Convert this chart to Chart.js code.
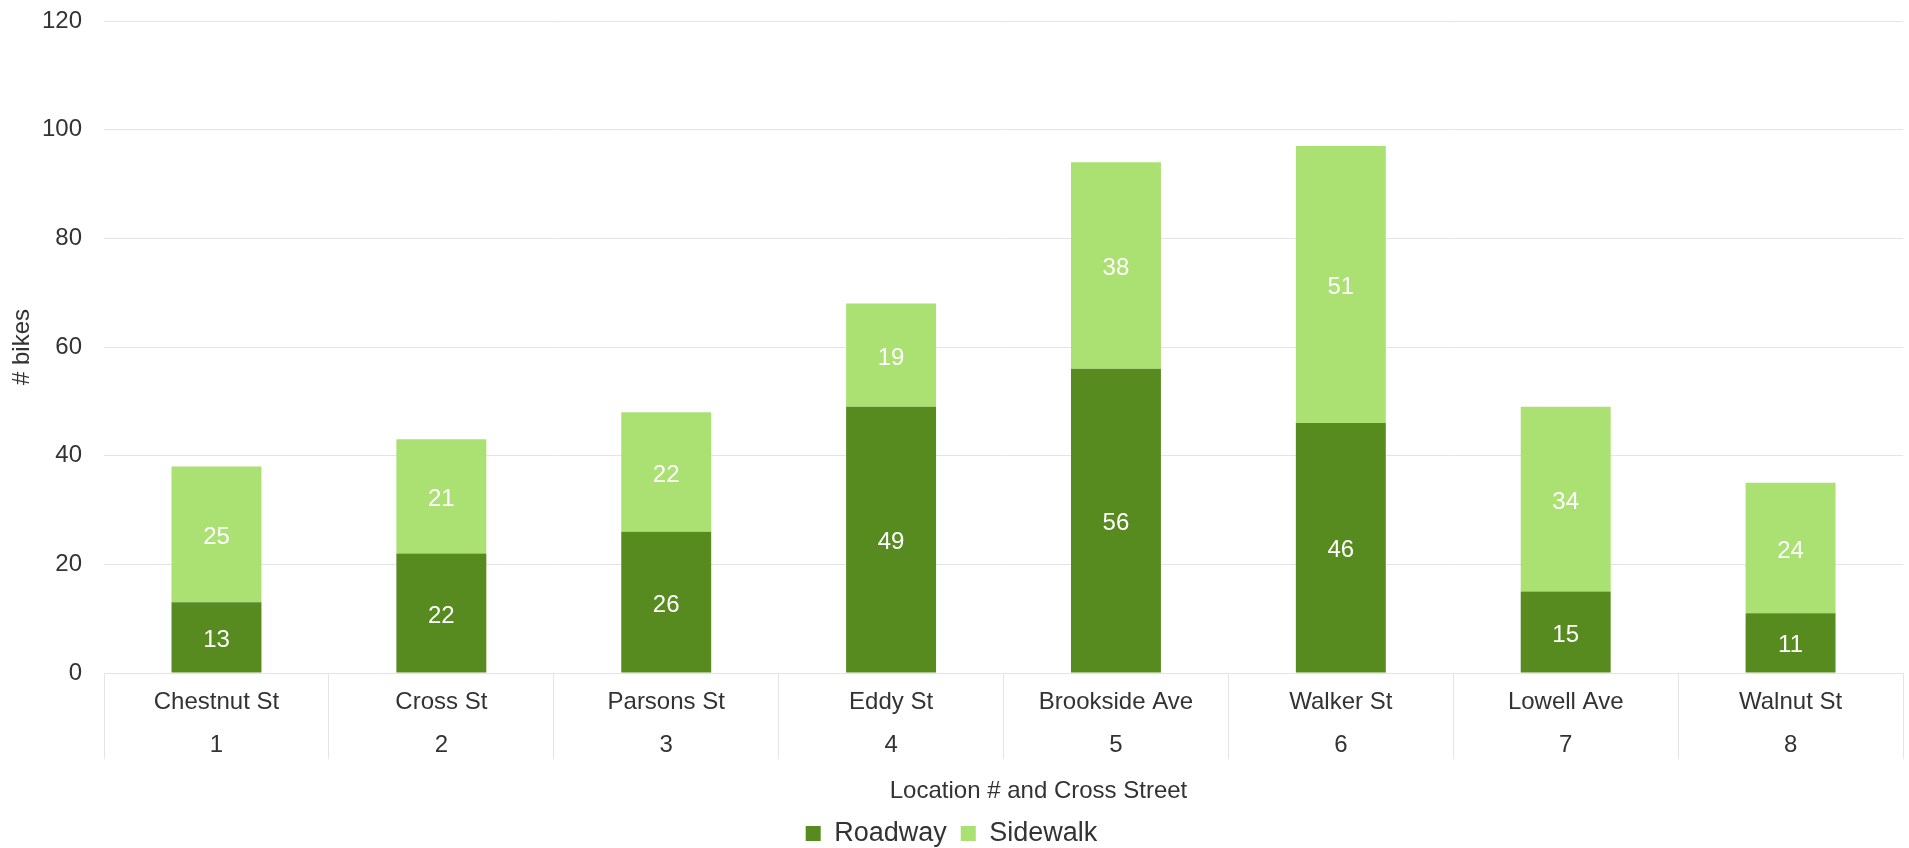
<!DOCTYPE html>
<html><head><meta charset="utf-8">
<script src="https://cdn.jsdelivr.net/npm/chart.js@4.4.1/dist/chart.umd.min.js"></script>
<style>html,body{margin:0;padding:0;background:#fff;overflow:hidden}</style>
</head><body>
<canvas id="c" width="1909" height="848"></canvas>
<script>
const streets = ["Chestnut St","Cross St","Parsons St","Eddy St","Brookside Ave","Walker St","Lowell Ave","Walnut St"];
const locationNumbers = ["1","2","3","4","5","6","7","8"];
const roadway = [13,22,26,49,56,46,15,11];
const sidewalk = [25,21,22,19,38,51,34,24];
const yTicks = [0,20,40,60,80,100,120];
const seriesNames = ["Roadway","Sidewalk"];
const xAxisTitle = "Location # and Cross Street";
const yAxisTitle = "# bikes";

const FONT = "'Liberation Sans', Arial, sans-serif";
const TEXT = "#333333";
const GRID = "#e4e4e4";

Chart.defaults.font.family = FONT;
Chart.defaults.color = TEXT;

const labels = streets.map((s, i) => [s, locationNumbers[i]]);

const valueLabels = {
  id: 'valueLabels',
  afterDatasetsDraw(chart) {
    const ctx = chart.ctx;
    ctx.save();
    ctx.font = "24px " + FONT;
    ctx.fillStyle = "#ffffff";
    ctx.textAlign = "center";
    ctx.textBaseline = "middle";
    chart.data.datasets.forEach((ds, i) => {
      chart.getDatasetMeta(i).data.forEach((bar, j) => {
        ctx.fillText(String(ds.data[j]), bar.x, (bar.y + bar.base) / 2 + 3);
      });
    });
    ctx.restore();
  }
};

const xTitle = {
  id: 'xTitle',
  afterDraw(chart) {
    const s = chart.scales.x;
    const ctx = chart.ctx;
    ctx.save();
    ctx.font = "24px " + FONT;
    ctx.fillStyle = TEXT;
    ctx.textAlign = "center";
    ctx.textBaseline = "middle";
    const opt = s.options.title;
    const lh = 24 * 1.2;
    const y = s.bottom - opt.padding.bottom - lh / 2;
    ctx.fillText(xAxisTitle, (chart.chartArea.left + chart.chartArea.right) / 2 + 35, y);
    ctx.restore();
  }
};

new Chart(document.getElementById('c'), {
  type: 'bar',
  data: {
    labels: labels,
    datasets: [
      { label: seriesNames[0], data: roadway, backgroundColor: '#578B20', borderWidth: 0 },
      { label: seriesNames[1], data: sidewalk, backgroundColor: '#ABE073', borderWidth: 0 }
    ]
  },
  options: {
    responsive: false,
    animation: false,
    devicePixelRatio: 1,
    layout: { padding: { top: 7, right: 6, left: 0, bottom: -9 } },
    datasets: { bar: { categoryPercentage: 1.0, barPercentage: 0.4 } },
    plugins: {
      legend: {
        position: 'bottom',
        labels: { boxWidth: 15, boxHeight: 15, padding: 14, font: { size: 27 }, color: TEXT }
      },
      tooltip: { enabled: false }
    },
    scales: {
      x: {
        stacked: true,
        grid: { display: true, drawOnChartArea: false, drawTicks: true, tickLength: 86, color: GRID, offset: true },
        border: { display: true, color: GRID },
        ticks: { font: { size: 24, lineHeight: 1.8 }, color: TEXT, padding: -78.6, maxRotation: 0, autoSkip: false },
        title: { display: true, text: xAxisTitle, color: 'rgba(0,0,0,0)', font: { size: 24 }, padding: { top: 89, bottom: 0 } }
      },
      y: {
        stacked: true,
        min: yTicks[0], max: yTicks[yTicks.length - 1],
        afterBuildTicks: (axis) => { axis.ticks = yTicks.map(v => ({ value: v })); },
        grid: { color: GRID, drawTicks: true, tickLength: 15.4, tickColor: 'rgba(0,0,0,0)' },
        border: { display: false },
        ticks: { font: { size: 24 }, color: TEXT, padding: 6.6 },
        title: { display: true, text: yAxisTitle, color: TEXT, font: { size: 24 }, padding: { top: 7.6, bottom: -1 } }
      }
    }
  },
  plugins: [valueLabels, xTitle]
});
</script>
</body></html>
